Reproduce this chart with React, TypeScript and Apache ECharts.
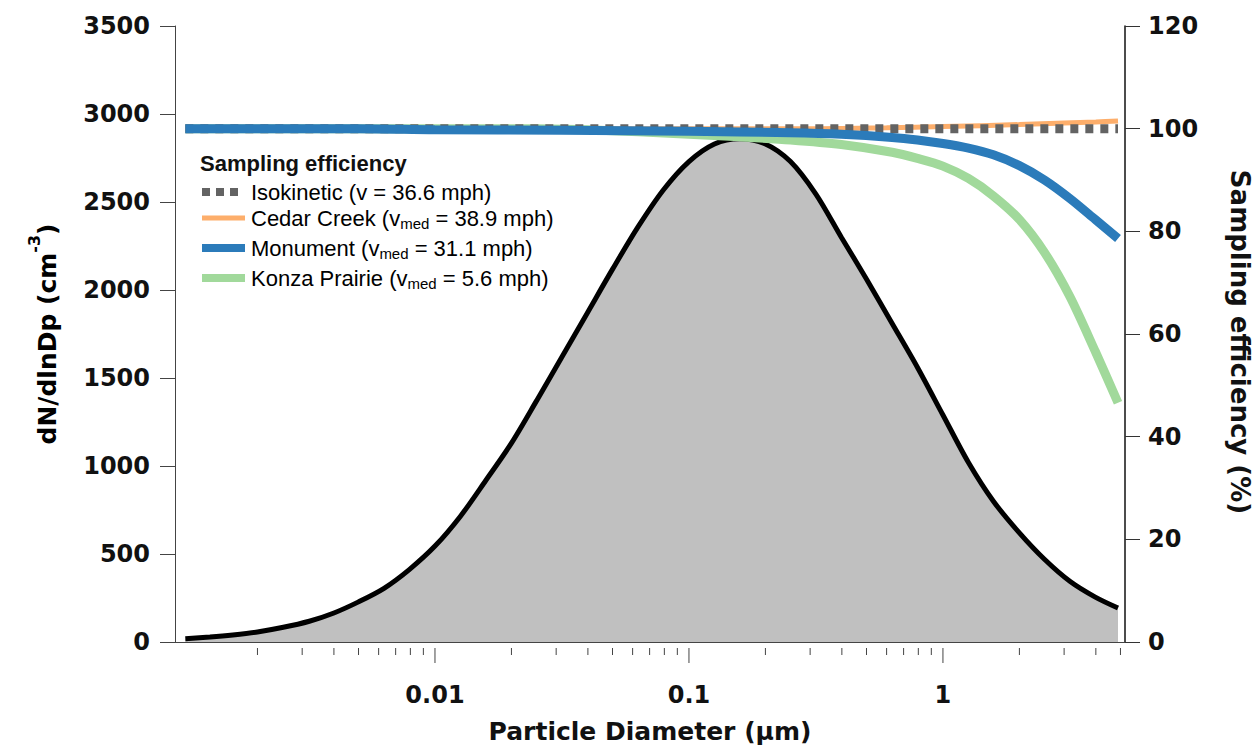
import React, { useEffect, useRef } from "react";
import * as echarts from "echarts";

// Particle number size distribution (left axis)
const diam = [0.00104, 0.0013, 0.0016, 0.002, 0.0025, 0.0032, 0.004, 0.005, 0.0063, 0.0079, 0.01, 0.0126, 0.0158, 0.02, 0.0251, 0.0316, 0.0398, 0.0501, 0.0631, 0.0794, 0.1, 0.126, 0.158, 0.2, 0.251, 0.316, 0.398, 0.501, 0.631, 0.794, 1.0, 1.26, 1.58, 2.0, 2.51, 3.16, 3.98, 4.89];
const dNdlnDp = [18, 28, 40, 57, 82, 118, 165, 228, 305, 410, 545, 715, 915, 1130, 1370, 1620, 1870, 2120, 2360, 2570, 2730, 2830, 2860, 2830, 2730, 2545, 2300, 2060, 1810, 1560, 1290, 1020, 800, 620, 470, 345, 255, 193];

// Sampling efficiency (right axis)
const isoD = [0.00104, 4.89];
const isoE = [100, 100];
const cedarD = [0.00104, 0.3, 0.6, 1, 2, 3, 4, 4.89];
const cedarE = [100, 100, 100.2, 100.4, 100.8, 101.1, 101.3, 101.5];
const monD = [0.00104, 0.005, 0.01, 0.0316, 0.1, 0.251, 0.398, 0.631, 0.794, 1.0, 1.26, 1.58, 2.0, 2.51, 3.16, 3.98, 4.89];
const monE = [100, 100, 99.8, 99.7, 99.5, 99.2, 98.9, 98.3, 97.8, 97.1, 96.2, 94.9, 92.8, 90.0, 86.4, 82.3, 78.6];
const konzaD = [0.00104, 0.0251, 0.0398, 0.0631, 0.1, 0.158, 0.251, 0.398, 0.631, 0.794, 1.0, 1.26, 1.58, 2.0, 2.51, 3.16, 3.98, 4.89];
const konzaE = [100, 100, 99.8, 99.4, 98.9, 98.4, 97.8, 96.9, 95.4, 94.2, 92.7, 90.3, 86.9, 82.3, 75.9, 67.3, 56.6, 46.6];

// x axis ticks
const xMinorTicks = [0.002, 0.003, 0.004, 0.005, 0.006, 0.007, 0.008, 0.009, 0.02, 0.03, 0.04, 0.05, 0.06, 0.07, 0.08, 0.09, 0.2, 0.3, 0.4, 0.5, 0.6, 0.7, 0.8, 0.9, 2, 3, 4, 5];
const xMajorTicks = [0.01, 0.1, 1];
const xTickLabels = ["0.01", "0.1", "1"];

const legendNames = ["Isokinetic", "Cedar Creek", "Monument", "Konza Prairie"];
const legendSpeeds = ["36.6", "38.9", "31.1", "5.6"];

const pair = (xs: number[], ys: number[]) => xs.map((x, i) => [x, ys[i]]);

const BOLD = '"DejaVu Sans", sans-serif';
const ARIAL = '"Liberation Sans", Arial, sans-serif';

export default function App() {
  const ref = useRef<HTMLDivElement>(null);
  useEffect(() => {
    if (!ref.current) return;
    const chart = echarts.init(ref.current, undefined, { renderer: "svg" });
    const axisOffset = 6;
    const legendX = 202;
    const legendRows = [192, 218, 248, 278];
    const iconColors = ["#636363", "#fdae6b", "#2b7bba", "#a1d99b"];
    const iconWidths = [8, 5, 8, 8];
    const legendGraphics: any[] = [
      {
        type: "text",
        x: 200,
        y: 163,
        style: { text: "Sampling efficiency", font: `bold 22px ${ARIAL}`, fill: "#111", verticalAlign: "middle" },
      },
    ];
    legendRows.forEach((y, i) => {
      legendGraphics.push({
        type: "line",
        shape: { x1: legendX, y1: y, x2: i === 0 ? 238 : 245, y2: y },
        style: {
          stroke: iconColors[i],
          lineWidth: iconWidths[i],
          lineDash: i === 0 ? [8, 6] : null,
          lineCap: "butt",
        },
      });
      const txt =
        i === 0
          ? `{t|${legendNames[i]} (v = ${legendSpeeds[i]} mph)}`
          : `{t|${legendNames[i]} (v}{s|med}{t| = ${legendSpeeds[i]} mph)}`;
      legendGraphics.push({
        type: "text",
        x: 251,
        y,
        style: {
          text: txt,
          verticalAlign: "middle",
          rich: {
            t: { fontFamily: ARIAL, fontSize: 22, color: "#111", lineHeight: 26, verticalAlign: "middle" },
            s: { fontFamily: ARIAL, fontSize: 15, color: "#111", lineHeight: 26, verticalAlign: "bottom" },
          },
        },
      });
    });

    const option: any = {
      animation: false,
      backgroundColor: "#ffffff",
      grid: { left: 175, right: 134, top: 26, bottom: 104, containLabel: false },
      xAxis: {
        type: "log",
        logBase: 10,
        min: 0.000947,
        max: 5.21,
        offset: axisOffset,
        axisLine: { show: true, lineStyle: { color: "#444", width: 1 } },
        axisTick: { show: false },
        axisLabel: { show: false },
        splitLine: { show: false },
      },
      yAxis: [
        {
          type: "value",
          min: 0,
          max: 3500,
          interval: 500,
          position: "left",
          axisLine: { show: true, lineStyle: { color: "#444", width: 1 } },
          axisTick: { show: true, length: 15, lineStyle: { color: "#444" } },
          axisLabel: {
            margin: 25,
            fontFamily: BOLD,
            fontWeight: "bold",
            fontSize: 24,
            color: "#111",
            formatter: (v: number) => String(v),
          },
          splitLine: { show: false },
        },
        {
          type: "value",
          min: 0,
          max: 120,
          interval: 20,
          position: "right",
          axisLine: { show: true, lineStyle: { color: "#111", width: 1.5 } },
          axisTick: { show: true, length: 15, lineStyle: { color: "#333" } },
          axisLabel: {
            margin: 23,
            fontFamily: BOLD,
            fontWeight: "bold",
            fontSize: 24,
            color: "#111",
            formatter: (v: number) => String(v),
          },
          splitLine: { show: false },
        },
      ],
      series: [
        {
          type: "line",
          name: "dN/dlnDp",
          yAxisIndex: 0,
          data: pair(diam, dNdlnDp),
          smooth: 0.3,
          showSymbol: false,
          lineStyle: { color: "#000", width: 5 },
          areaStyle: { color: "#c0c0c0", opacity: 1 },
          z: 2,
        },
        {
          type: "line",
          name: "Konza Prairie",
          yAxisIndex: 1,
          data: pair(konzaD, konzaE),
          smooth: 0.3,
          showSymbol: false,
          lineStyle: { color: "#a1d99b", width: 9, cap: "butt" },
          z: 3,
        },
        {
          type: "line",
          name: "Cedar Creek",
          yAxisIndex: 1,
          data: pair(cedarD, cedarE),
          smooth: 0.3,
          showSymbol: false,
          lineStyle: { color: "#fdae6b", width: 5, cap: "butt" },
          z: 4,
        },
        {
          type: "line",
          name: "Isokinetic",
          yAxisIndex: 1,
          data: pair(isoD, isoE),
          showSymbol: false,
          lineStyle: { color: "#636363", width: 9, type: [8, 7], cap: "butt" },
          z: 5,
        },
        {
          type: "line",
          name: "Monument",
          yAxisIndex: 1,
          data: pair(monD, monE),
          smooth: 0.3,
          showSymbol: false,
          lineStyle: { color: "#2b7bba", width: 9, cap: "butt" },
          z: 6,
        },
        {
          type: "custom",
          name: "minorTicks",
          xAxisIndex: 0,
          yAxisIndex: 0,
          clip: false,
          silent: true,
          data: xMinorTicks.map((v) => [v, 0]),
          renderItem: (params: any, api: any) => {
            const p = api.coord([api.value(0), 0]);
            const y = p[1] + axisOffset;
            return {
              type: "line",
              shape: { x1: p[0], y1: y, x2: p[0], y2: y + 7 },
              style: { stroke: "#444", lineWidth: 1 },
            };
          },
          z: 10,
        },
        {
          type: "custom",
          name: "majorTicks",
          xAxisIndex: 0,
          yAxisIndex: 0,
          clip: false,
          silent: true,
          data: xMajorTicks.map((v) => [v, 0]),
          renderItem: (params: any, api: any) => {
            const p = api.coord([api.value(0), 0]);
            const y = p[1] + axisOffset;
            return {
              type: "group",
              children: [
                {
                  type: "line",
                  shape: { x1: p[0], y1: y, x2: p[0], y2: y + 15 },
                  style: { stroke: "#444", lineWidth: 1 },
                },
                {
                  type: "text",
                  x: p[0],
                  y: y + 47,
                  style: {
                    text: xTickLabels[params.dataIndex],
                    fontFamily: BOLD,
                    fontWeight: "bold",
                    fontSize: 24,
                    fill: "#111",
                    align: "center",
                    verticalAlign: "middle",
                  },
                },
              ],
            };
          },
          z: 10,
        },
      ],
      graphic: [
        {
          type: "text",
          x: 650,
          y: 731,
          style: {
            text: "Particle Diameter (µm)",
            fontFamily: BOLD,
            fontWeight: "bold",
            fontSize: 25,
            fill: "#111",
            align: "center",
            verticalAlign: "middle",
          },
        },
        {
          type: "text",
          x: 43,
          y: 334,
          rotation: Math.PI / 2,
          style: {
            text: "{t|dN/dlnDp (cm}{s|-3}{t|)}",
            align: "center",
            verticalAlign: "middle",
            rich: {
              t: { fontFamily: BOLD, fontWeight: "bold", fontSize: 25, color: "#111", lineHeight: 34, verticalAlign: "bottom" },
              s: { fontFamily: BOLD, fontWeight: "bold", fontSize: 16, color: "#111", lineHeight: 34, verticalAlign: "top" },
            },
          },
        },
        {
          type: "text",
          x: 1240,
          y: 342,
          rotation: -Math.PI / 2,
          style: {
            text: "Sampling efficiency (%)",
            fontFamily: BOLD,
            fontWeight: "bold",
            fontSize: 26,
            fill: "#111",
            align: "center",
            verticalAlign: "middle",
          },
        },
        ...legendGraphics,
      ],
    };
    chart.setOption(option);
    return () => chart.dispose();
  }, []);
  return (
    <div
      ref={ref}
      style={{ position: "fixed", left: 0, top: 0, width: 1259, height: 746, background: "#fff" }}
    />
  );
}
